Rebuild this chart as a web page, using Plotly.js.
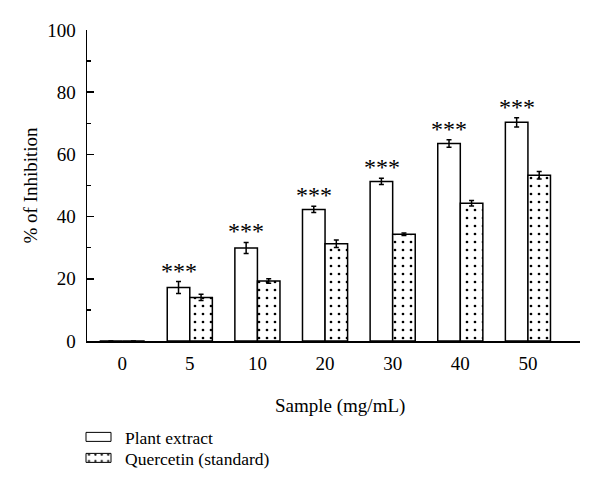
<!DOCTYPE html>
<html>
<head>
<meta charset="utf-8">
<script src="https://cdn.plot.ly/plotly-3.0.1.min.js"></script>
<style>html,body{margin:0;padding:0;background:#fff;}#chart{width:600px;height:488px;}</style>
</head>
<body>
<div id="chart"></div>
<script>
const categories = ["0", "5", "10", "20", "30", "40", "50"];
const plantExtract = [0, 17.2, 29.9, 42.3, 51.3, 63.5, 70.3];
const plantErr = [0, 1.9, 1.8, 1.0, 1.0, 1.2, 1.5];
const quercetin = [0, 14.0, 19.3, 31.3, 34.3, 44.3, 53.3];
const quercetinErr = [0, 1.0, 0.7, 1.2, 0.4, 0.9, 1.2];
const significance = ["", "***", "***", "***", "***", "***", "***"];
const yTicks = [0, 20, 40, 60, 80, 100];
const xTitle = "Sample (mg/mL)";
const yTitle = "% of Inhibition";

const serif = "'Liberation Serif', 'Times New Roman', serif";

const traces = [
  {
    type: "bar", name: "Plant extract", x: categories, y: plantExtract, legend: "legend",
    marker: {color: "white", line: {color: "black", width: 1.5}},
    error_y: {type: "data", array: plantErr, visible: true, color: "black", thickness: 1.5, width: 2.5}
  },
  {
    type: "bar", name: "Quercetin (standard)", x: categories, y: quercetin, legend: "legend2",
    marker: {color: "white", line: {color: "black", width: 1.5},
      pattern: {shape: ".", size: 8, solidity: 0.09, fgcolor: "black", bgcolor: "white", fillmode: "replace"}},
    error_y: {type: "data", array: quercetinErr, visible: true, color: "black", thickness: 1.5, width: 2.5}
  }
];

const annotations = [];
categories.forEach((c, i) => {
  if (significance[i]) {
    annotations.push({
      x: i, y: plantExtract[i] + plantErr[i], xref: "x", yref: "y",
      text: significance[i], showarrow: false, xanchor: "center", yanchor: "bottom",
      xshift: -11, yshift: -4,
      font: {family: serif, size: 24, color: "black"}
    });
  }
});
annotations.push({
  text: xTitle, xref: "paper", yref: "paper", x: 0.513, y: -0.209,
  xanchor: "center", yanchor: "middle", showarrow: false,
  font: {family: serif, size: 19, color: "black"}
});
annotations.push({
  text: yTitle, xref: "paper", yref: "paper", x: -0.1156, y: 0.5, textangle: -90,
  xanchor: "center", yanchor: "middle", showarrow: false,
  font: {family: serif, size: 19, color: "black"}
});

const legendBase = {
  xref: "container", yref: "container", xanchor: "left", yanchor: "middle",
  font: {family: serif, size: 17.5, color: "black"},
  bgcolor: "rgba(0,0,0,0)", borderwidth: 0
};

const layout = {
  width: 600, height: 488,
  margin: {l: 87, r: 20, t: 30, b: 147, autoexpand: false},
  paper_bgcolor: "white", plot_bgcolor: "white",
  font: {family: serif, color: "black"},
  showlegend: true,
  bargap: 0.333, bargroupgap: 0,
  barmode: "group",
  xaxis: {
    type: "category", range: [-0.52, 6.77], automargin: false,
    showline: true, linecolor: "black", linewidth: 1.5,
    ticks: "", showgrid: false, zeroline: false,
    ticklabelstandoff: 5,
    tickfont: {family: serif, size: 19, color: "black"}
  },
  yaxis: {
    range: [0, 100], tickvals: yTicks, automargin: false,
    showline: true, linecolor: "black", linewidth: 1.5,
    ticks: "inside", ticklen: 7, tickwidth: 1.5, tickcolor: "black",
    minor: {ticks: "inside", ticklen: 4, tickwidth: 1.5, tickcolor: "black", dtick: 10, showgrid: false},
    showgrid: false, zeroline: false,
    ticklabelstandoff: 6,
    tickfont: {family: serif, size: 19, color: "black"}
  },
  legend: Object.assign({x: 85 / 600, y: 1 - 437 / 488}, legendBase),
  legend2: Object.assign({x: 85 / 600, y: 1 - 458 / 488}, legendBase),
  annotations: annotations
};

Plotly.newPlot("chart", traces, layout, {displayModeBar: false, staticPlot: true}).then(gd => {
  gd.querySelectorAll(".legendpoints path").forEach(p => {
    p.setAttribute("d", "M6,4.5H-19V-4.5H6Z");
    p.style.strokeWidth = "1px";
    p.style.stroke = "black";
  });
});
</script>
</body>
</html>
